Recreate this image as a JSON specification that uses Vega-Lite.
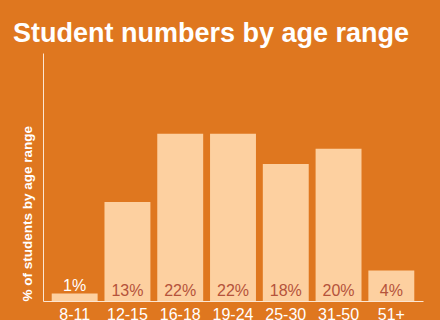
{
  "$schema": "https://vega.github.io/schema/vega-lite/v6.json",
  "autosize": "none",
  "width": 380,
  "height": 248,
  "padding": {"left": 43, "top": 53, "right": 17, "bottom": 19},
  "background": "#DF771F",
  "title": {
    "text": "Student numbers by age range",
    "anchor": "start",
    "frame": "group",
    "dx": -30,
    "offset": 5,
    "font": "Liberation Sans",
    "fontSize": 27,
    "fontWeight": "bold",
    "color": "#FFFFFF"
  },
  "config": {
    "view": {"stroke": null},
    "font": "Liberation Sans"
  },
  "data": {
    "values": [
      {"age": "8-11", "pct": 1},
      {"age": "12-15", "pct": 13},
      {"age": "16-18", "pct": 22},
      {"age": "19-24", "pct": 22},
      {"age": "25-30", "pct": 18},
      {"age": "31-50", "pct": 20},
      {"age": "51+", "pct": 4}
    ]
  },
  "encoding": {
    "x": {
      "field": "age",
      "type": "nominal",
      "sort": null,
      "scale": {"paddingInner": 0.13, "paddingOuter": 0.165},
      "axis": {
        "title": null,
        "labelAngle": 0,
        "labelColor": "#FFFFFF",
        "labelFontSize": 16,
        "labelPadding": 5,
        "ticks": false,
        "domainColor": "#FCE6D2",
        "domainWidth": 1
      }
    }
  },
  "layer": [
    {
      "mark": {"type": "bar", "color": "#FDD0A0"},
      "encoding": {
        "y": {
          "field": "pct",
          "type": "quantitative",
          "scale": {"domain": [0, 32.6], "nice": false},
          "axis": {
            "title": "% of students by age range",
            "titleAnchor": "start",
            "titleColor": "#FFFFFF",
            "titleFontSize": 13.5,
            "titleFontWeight": "bold",
            "titlePadding": 9,
            "labels": false,
            "ticks": false,
            "grid": false,
            "domainColor": "#FCE6D2",
            "domainWidth": 1
          }
        }
      }
    },
    {
      "transform": [{"filter": "datum.pct >= 2"}, {"calculate": "datum.pct + '%'", "as": "label"}],
      "mark": {"type": "text", "color": "#B5533B", "fontSize": 16, "baseline": "alphabetic", "dy": -5},
      "encoding": {
        "y": {"datum": 0},
        "text": {"field": "label"}
      }
    },
    {
      "transform": [{"filter": "datum.pct < 2"}, {"calculate": "datum.pct + '%'", "as": "label"}],
      "mark": {"type": "text", "color": "#FFFFFF", "fontSize": 16, "baseline": "alphabetic", "dy": -2},
      "encoding": {
        "y": {"field": "pct", "type": "quantitative"},
        "text": {"field": "label"}
      }
    }
  ]
}
